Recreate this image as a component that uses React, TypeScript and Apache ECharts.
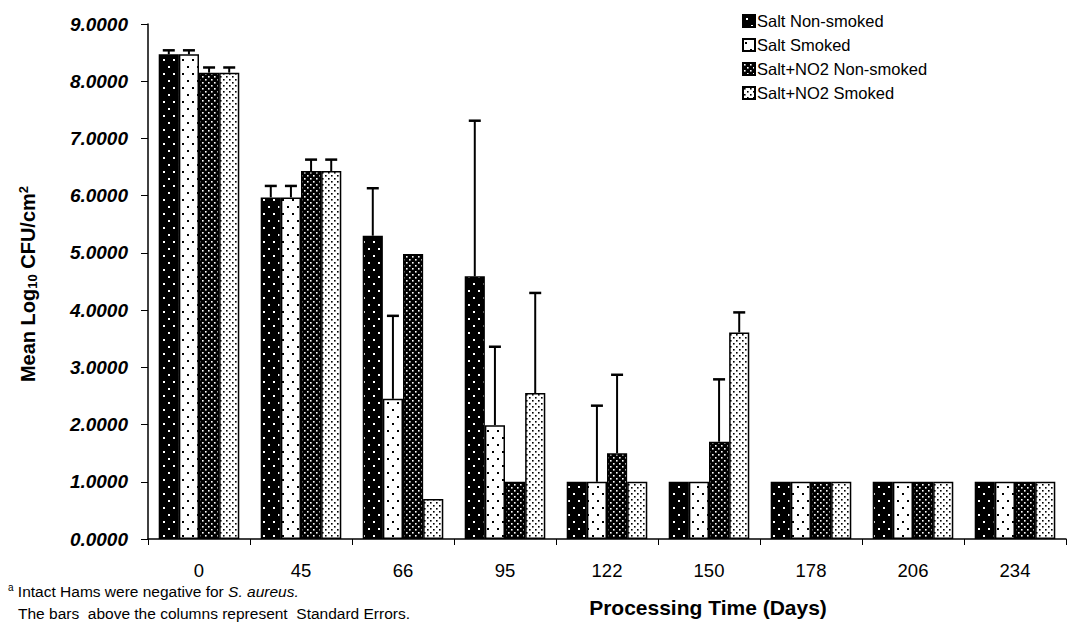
import React, { useEffect, useRef } from "react";
import * as echarts from "echarts";

const categories = ["0", "45", "66", "95", "122", "150", "178", "206", "234"];
const seriesNames = ["Salt Non-smoked", "Salt Smoked", "Salt+NO2 Non-smoked", "Salt+NO2 Smoked"];
const yTicks = [0, 1, 2, 3, 4, 5, 6, 7, 8, 9];

const saltNonSmoked = [8.47, 5.97, 5.3, 4.59, 1.0, 1.0, 1.0, 1.0, 1.0];
const saltSmoked = [8.47, 5.97, 2.45, 1.99, 1.0, 1.0, 1.0, 1.0, 1.0];
const no2NonSmoked = [8.15, 6.43, 4.98, 1.0, 1.5, 1.7, 1.0, 1.0, 1.0];
const no2Smoked = [8.15, 6.43, 0.7, 2.55, 1.0, 3.61, 1.0, 1.0, 1.0];

const seSaltNonSmoked = [0.07, 0.2, 0.83, 2.72, 0, 0, 0, 0, 0];
const seSaltSmoked = [0.07, 0.2, 1.45, 1.37, 1.33, 0, 0, 0, 0];
const seNo2NonSmoked = [0.09, 0.2, 0, 0, 1.37, 1.09, 0, 0, 0];
const seNo2Smoked = [0.09, 0.2, 0, 1.75, 0, 0.35, 0, 0, 0];

const values = [saltNonSmoked, saltSmoked, no2NonSmoked, no2Smoked];
const errors = [seSaltNonSmoked, seSaltSmoked, seNo2NonSmoked, seNo2Smoked];

const FONT = 'Arial, "Liberation Sans", sans-serif';
const CAT_GAP = 0.21;

function makePattern(bg: string, fg: string, w: number, h: number, dots: number[][], s: number) {
  const c = document.createElement("canvas");
  c.width = w;
  c.height = h;
  const ctx = c.getContext("2d")!;
  ctx.fillStyle = bg;
  ctx.fillRect(0, 0, w, h);
  ctx.fillStyle = fg;
  dots.forEach(([x, y]) => ctx.fillRect(x, y, s, s));
  return { image: c, repeat: "repeat" } as any;
}

export default function App() {
  const ref = useRef<HTMLDivElement>(null);
  useEffect(() => {
    if (!ref.current) return;
    const chart = echarts.init(ref.current, undefined, { renderer: "svg" });
    const patterns = [
      makePattern("#000", "#fff", 10, 14, [[3, 3], [8, 10]], 2),
      makePattern("#fff", "#000", 10, 14, [[2, 3], [7, 10]], 2),
      makePattern("#000", "#fff", 6, 6, [[1, 1], [4, 4]], 1.6),
      makePattern("#fff", "#000", 6, 6, [[1, 1], [4, 4]], 1.6),
    ];
    const barSeries = seriesNames.map((name, i) => ({
      name,
      type: "bar",
      data: values[i],
      barGap: "0%",
      barCategoryGap: CAT_GAP * 100 + "%",
      itemStyle: { color: patterns[i], borderColor: "#000", borderWidth: 1.5 },
      z: 2,
    }));
    const errSeries = seriesNames.map((name, i) => ({
      name: name + " SE",
      type: "custom",
      z: 3,
      encode: { x: 0, y: 1 },
      data: values[i].map((v, k) => [k, v, errors[i][k]]),
      renderItem: (params: any, api: any) => {
        const cat = api.value(0);
        const v = api.value(1);
        const e = api.value(2);
        if (!e) return null;
        const base = api.coord([cat, v]);
        const top = api.coord([cat, v + e]);
        const band = api.size([1, 0])[0];
        const groupW = band * (1 - CAT_GAP);
        const bw = groupW / 4;
        const x = base[0] - groupW / 2 + bw * (i + 0.5);
        return {
          type: "group",
          children: [
            { type: "line", shape: { x1: x, y1: base[1], x2: x, y2: top[1] }, style: { stroke: "#000", lineWidth: 2 } },
            { type: "line", shape: { x1: x - 6, y1: top[1], x2: x + 6, y2: top[1] }, style: { stroke: "#000", lineWidth: 2.5 } },
          ],
        };
      },
    }));
    chart.setOption({
      animation: false,
      backgroundColor: "#fff",
      grid: { left: 148, top: 24, right: 5, bottom: 84, containLabel: false },
      legend: {
        data: seriesNames,
        orient: "vertical",
        left: 737,
        top: 7,
        itemWidth: 12,
        itemHeight: 12,
        itemGap: 6,
        icon: "rect",
        textStyle: { fontFamily: FONT, fontSize: 16.5, color: "#000", padding: [0, 0, 0, -3], lineHeight: 18 },
      },
      xAxis: {
        type: "category",
        data: categories,
        axisLine: { lineStyle: { color: "#000", width: 1.5 } },
        axisTick: { show: true, length: 6, lineStyle: { color: "#000" } },
        axisLabel: { fontFamily: FONT, fontSize: 18.5, color: "#000", margin: 22 },
      },
      yAxis: {
        type: "value",
        min: 0,
        max: 9,
        interval: 1,
        splitLine: { show: false },
        axisLine: { show: true, lineStyle: { color: "#000", width: 1.5 } },
        axisTick: { show: true, length: 7, lineStyle: { color: "#000" } },
        axisLabel: {
          fontFamily: FONT,
          fontSize: 19,
          fontWeight: "bold",
          fontStyle: "italic",
          color: "#000",
          margin: 20,
          formatter: (v: number) => (yTicks.includes(v) ? v.toFixed(4) : ""),
        },
      },
      graphic: [
        {
          type: "text",
          x: 28,
          y: 284,
          rotation: Math.PI / 2,
          style: {
            text: "Mean Log{sub|10} CFU/cm{sup|2}",
            fontFamily: FONT,
            fontSize: 20,
            fontWeight: "bold",
            fill: "#000",
            align: "center",
            verticalAlign: "middle",
            rich: {
              sub: { fontFamily: FONT, fontSize: 13, fontWeight: "bold", fill: "#000", padding: [9, 0, 0, 0] },
              sup: { fontFamily: FONT, fontSize: 13, fontWeight: "bold", fill: "#000", padding: [0, 0, 9, 0] },
            },
          },
        },
        {
          type: "text",
          x: 708,
          y: 607,
          style: {
            text: "Processing Time (Days)",
            fontFamily: FONT,
            fontSize: 21,
            fontWeight: "bold",
            fill: "#000",
            align: "center",
            verticalAlign: "middle",
          },
        },
        {
          type: "text",
          x: 8,
          y: 591,
          style: {
            text: "{sup|a} Intact Hams were negative for {it|S. aureus.}",
            fontFamily: FONT,
            fontSize: 15.5,
            fill: "#000",
            verticalAlign: "middle",
            rich: {
              sup: { fontFamily: FONT, fontSize: 10, fill: "#000", padding: [0, 0, 7, 0] },
              it: { fontFamily: FONT, fontSize: 15.5, fontStyle: "italic", fill: "#000" },
            },
          },
        },
        {
          type: "text",
          x: 18,
          y: 613,
          style: {
            text: "The bars  above the columns represent  Standard Errors.",
            fontFamily: FONT,
            fontSize: 15.5,
            fill: "#000",
            verticalAlign: "middle",
          },
        },
      ],
      series: [...barSeries, ...errSeries],
    });
    return () => chart.dispose();
  }, []);
  return <div ref={ref} style={{ width: 1071, height: 623, position: "absolute", left: 0, top: 0 }} />;
}
